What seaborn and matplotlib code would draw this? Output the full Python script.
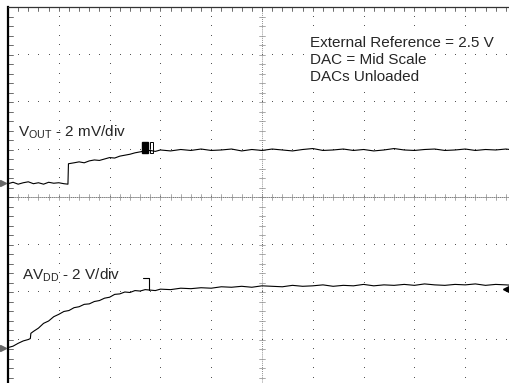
import numpy as np
import matplotlib
matplotlib.use("Agg")
import matplotlib.pyplot as plt
from matplotlib.patches import Rectangle
import seaborn as sns

sns.set_style("white")
plt.rcParams['font.family'] = ['Liberation Sans', 'DejaVu Sans']
plt.rcParams['mathtext.fontset'] = 'custom'
plt.rcParams['mathtext.rm'] = 'Liberation Sans'

vout_t = [0.0, 0.1, 0.2, 0.3, 0.4, 0.5, 0.6, 0.7, 0.8, 0.9, 1.0, 1.1, 1.18, 1.19,
          1.3, 1.4, 1.5, 1.6, 1.7, 1.8, 1.9, 2.0, 2.1, 2.2, 2.3, 2.4, 2.5, 2.6, 2.7, 2.8, 2.9, 3.0,
          3.2, 3.4, 3.6, 3.8, 4.0, 4.2, 4.4, 4.6, 4.8, 5.0, 5.2, 5.4, 5.6, 5.8, 6.0, 6.2, 6.4,
          6.6, 6.8, 7.0, 7.2, 7.4, 7.6, 7.8, 8.0, 8.2, 8.4, 8.6, 8.8, 9.0, 9.2, 9.4, 9.6, 9.8, 9.95]
vout_v = [4.28, 4.31, 4.27, 4.30, 4.32, 4.28, 4.30, 4.27, 4.31, 4.29, 4.30, 4.28, 4.27, 4.70,
          4.72, 4.74, 4.72, 4.76, 4.78, 4.77, 4.80, 4.83, 4.82, 4.86, 4.88, 4.90, 4.93, 4.95, 4.97, 4.98, 4.96, 4.99,
          4.97, 5.00, 4.98, 5.01, 4.98, 4.99, 5.01, 4.97, 5.00, 4.98, 5.01, 4.99, 4.97, 5.00, 5.02, 4.98, 4.99,
          5.01, 4.98, 5.00, 4.97, 4.99, 5.02, 4.99, 4.98, 5.00, 5.01, 4.98, 4.99, 5.01, 4.98, 5.00, 4.99, 5.01, 4.99]

avdd_t = [0.0, 0.1, 0.2, 0.3, 0.4, 0.44, 0.45,
          0.5, 0.6, 0.7, 0.8, 0.9, 1.0, 1.1, 1.2, 1.3, 1.4, 1.5, 1.6, 1.7, 1.8, 1.9, 2.0, 2.1, 2.2, 2.3,
          2.4, 2.5, 2.6, 2.7, 2.8, 2.9, 3.0,
          3.2, 3.4, 3.6, 3.8, 4.0, 4.2, 4.4, 4.6, 4.8, 5.0, 5.2, 5.4, 5.6, 5.8, 6.0, 6.2, 6.4,
          6.6, 6.8, 7.0, 7.2, 7.4, 7.6, 7.8, 8.0, 8.2, 8.4, 8.6, 8.8, 9.0, 9.2, 9.4, 9.6, 9.8, 9.95]
avdd_v = [0.83, 0.86, 0.92, 0.97, 1.00, 1.02, 1.13,
          1.17, 1.24, 1.34, 1.39, 1.48, 1.53, 1.59, 1.61, 1.67, 1.69, 1.74, 1.75, 1.80, 1.82, 1.87, 1.89, 1.95, 1.96, 2.00,
          1.99, 2.03, 2.02, 2.05, 2.04, 2.03, 2.06,
          2.05, 2.08, 2.07, 2.09, 2.08, 2.11, 2.10, 2.12, 2.10, 2.13, 2.12, 2.11, 2.14, 2.12, 2.13, 2.15, 2.12,
          2.14, 2.13, 2.16, 2.13, 2.15, 2.14, 2.16, 2.14, 2.17, 2.15, 2.14, 2.16, 2.15, 2.17, 2.14, 2.16, 2.15, 2.14]

notes = ["External Reference = 2.5 V", "DAC = Mid Scale", "DACs Unloaded"]

fig = plt.figure(figsize=(5.1, 3.83), dpi=100)
ax = fig.add_axes([8/510, -4/383, 508/510, 380/383])
ax.set_xlim(0, 10)
ax.set_ylim(0, 8)
ax.set_xticks([])
ax.set_yticks([])
for s in ['right', 'bottom']:
    ax.spines[s].set_visible(False)
ax.spines['left'].set_linewidth(1.6)
ax.spines['left'].set_color('black')
ax.spines['top'].set_linewidth(0.9)
ax.spines['top'].set_color('#333333')

# graticule: single-pixel dots on the major lines
gc = '#555555'
ys = np.arange(0, 8.01, 0.2)
xs = np.arange(0, 10.01, 0.2)
for gx in [1, 2, 3, 4, 6, 7, 8, 9]:
    ax.plot(np.full_like(ys, gx), ys, ',', color=gc)
for gy in [1, 2, 3, 5, 6, 7]:
    ax.plot(xs, np.full_like(xs, gy), ',', color=gc)

# center axes with minor ticks
ax.plot([5, 5], [0, 8], color='#666666', lw=0.6, ls=(0, (1, 1.5)))
ax.plot([0, 10], [4, 4], color='#bbbbbb', lw=0.7)
ax.plot([0, 10], [4, 4], color='#666666', lw=0.6, ls=(0, (1, 1.5)))
for y in ys:
    ax.plot([4.95, 5.05], [y, y], color='#888888', lw=0.5)
    ax.plot([0, 0.09], [y, y], color='#555555', lw=0.6)
for x in xs:
    ax.plot([x, x], [3.94, 4.06], color='#888888', lw=0.5)
    ax.plot([x, x], [7.92, 8], color='#555555', lw=0.6)

# traces
sns.lineplot(x=vout_t, y=vout_v, color='black', lw=0.8, ax=ax, estimator=None, sort=False)
sns.lineplot(x=avdd_t, y=avdd_v, color='black', lw=0.8, ax=ax, estimator=None, sort=False)

# cursor / channel markers
ax.add_patch(Rectangle((2.64, 4.93), 0.11, 0.23, color='black'))
ax.add_patch(Rectangle((2.80, 4.93), 0.06, 0.23, fill=False, ec='black', lw=0.7))
ax.plot([2.66, 2.78, 2.78], [2.29, 2.29, 2.04], color='black', lw=0.8)
ax.plot([9.83], [2.06], marker='<', color='black', ms=6)
ax.plot([-0.09], [4.29], marker='>', color='#666666', ms=4, clip_on=False)
ax.plot([-0.09], [0.83], marker='>', color='#666666', ms=4, clip_on=False)

ax.text(0.2, 5.28, r"V$_{\mathregular{OUT}}$ - 2 mV/div", fontsize=11, va='baseline')
ax.text(0.28, 2.27, r"AV$_{\mathregular{DD}}$ - 2 V/div", fontsize=11, va='baseline')
for i, s in enumerate(notes):
    ax.text(5.94, 7.24 - i * 0.36, s, fontsize=11, va='center',
            bbox=dict(fc='white', ec='none', pad=0.5))

fig.savefig("out.png", dpi=100)
